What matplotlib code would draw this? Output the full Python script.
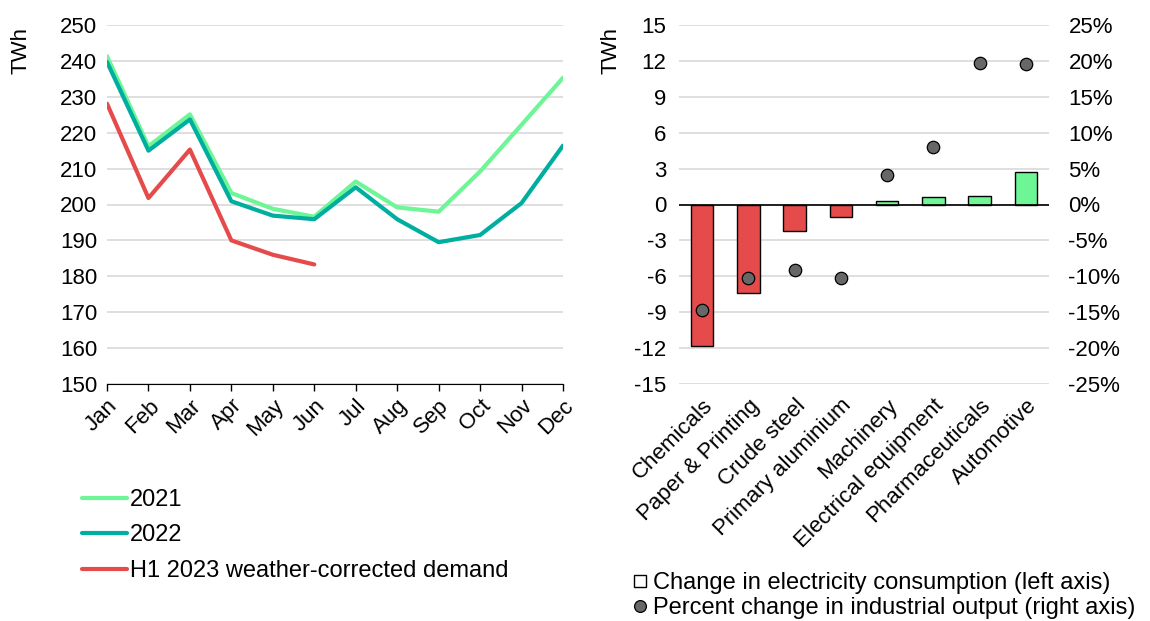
import matplotlib
matplotlib.use("Agg")
import matplotlib.pyplot as plt
from matplotlib.lines import Line2D
import numpy as np

plt.rcParams['font.family'] = ['Liberation Sans', 'DejaVu Sans']
plt.rcParams['axes.unicode_minus'] = False

months = ["Jan", "Feb", "Mar", "Apr", "May", "Jun", "Jul", "Aug", "Sep", "Oct", "Nov", "Dec"]
demand_2021 = [241.3, 216.2, 225.1, 203.2, 198.8, 196.6, 206.4, 199.2, 198.0, 209.2, 222.2, 235.3]
demand_2022 = [239.7, 215.0, 223.7, 200.9, 196.9, 195.9, 204.8, 195.9, 189.5, 191.5, 200.4, 216.4]
demand_2023 = [228.1, 201.8, 215.3, 190.0, 186.0, 183.3]

sectors = ["Chemicals", "Paper & Printing", "Crude steel", "Primary aluminium",
           "Machinery", "Electrical equipment", "Pharmaceuticals", "Automotive"]
elec_change = [-11.8, -7.4, -2.24, -1.02, 0.28, 0.66, 0.69, 2.68]
output_change = [-14.7, -10.2, -9.1, -10.2, 4.1, 8.0, 19.7, 19.5]

c2021 = "#6df596"
c2022 = "#00ae9f"
c2023 = "#e54b4b"
grid_c = "#d9d9d9"
fs = 16
lfs = 17

fig = plt.figure(figsize=(11.5, 6.21), dpi=100)

# Left chart
ax1 = fig.add_axes([107/1150, 1-384/621, (563-107)/1150, (384-25)/621])
x = np.arange(len(months))
ax1.plot(x, demand_2021, color=c2021, lw=3, label="2021", solid_capstyle="round", zorder=3)
ax1.plot(x, demand_2022, color=c2022, lw=3, label="2022", solid_capstyle="round", zorder=4)
ax1.plot(x[:len(demand_2023)], demand_2023, color=c2023, lw=3,
         label="H1 2023 weather-corrected demand", solid_capstyle="round", zorder=5)
ax1.set_xlim(0, 11)
ax1.set_ylim(150, 250)
ax1.set_yticks(np.arange(150, 251, 10))
ax1.set_xticks(x)
ax1.set_xticklabels(months, rotation=45, ha="right", rotation_mode="anchor", fontsize=fs)
ax1.tick_params(axis="y", length=0, labelsize=fs, pad=7)
ax1.tick_params(axis="x", length=5, width=1, color="black", pad=3)
for s in ["top", "right", "left"]:
    ax1.spines[s].set_visible(False)
ax1.spines["bottom"].set_color("black")
ax1.yaxis.grid(True, color=grid_c, lw=1.2)
ax1.set_axisbelow(True)
ax1.set_ylabel("TWh", fontsize=fs)
ax1.yaxis.set_label_coords(-0.165, 0.93)
ax1.legend(loc="upper left", bbox_to_anchor=(82/1150, 1-489/621), bbox_transform=fig.transFigure,
           frameon=False, fontsize=lfs, handlelength=1.9, handletextpad=0.12, labelspacing=0.57,
           borderaxespad=0, borderpad=0)

# Right chart
ax2 = fig.add_axes([679/1150, 1-384/621, (1049-679)/1150, (384-25)/621])
xs = np.arange(len(sectors))
bar_colors = [c2023 if v < 0 else c2021 for v in elec_change]
ax2.bar(xs, elec_change, width=0.49, color=bar_colors, edgecolor="black", linewidth=1, zorder=3)
ax2.axhline(0, color="black", lw=1.2, zorder=4)
ax2.set_xlim(-0.5, 7.5)
ax2.set_ylim(-15, 15)
ax2.set_yticks(np.arange(-15, 16, 3))
ax2.yaxis.grid(True, color=grid_c, lw=1.2)
ax2.set_axisbelow(True)
ax2.set_xticks(xs)
ax2.set_xticklabels(sectors, rotation=45, ha="right", rotation_mode="anchor", fontsize=fs)
ax2.tick_params(axis="x", length=0, pad=8)
ax2.tick_params(axis="y", length=0, labelsize=fs, pad=9)
for s in ["top", "right", "left", "bottom"]:
    ax2.spines[s].set_visible(False)
ax2.set_ylabel("TWh", fontsize=fs)
ax2.yaxis.set_label_coords(-0.155, 0.93)

ax3 = ax2.twinx()
ax3.scatter(xs, output_change, s=80, color="#676767", edgecolor="black", linewidth=0.9, zorder=5)
ax3.set_ylim(-25, 25)
ax3.set_yticks(np.arange(-25, 26, 5))
ax3.set_yticklabels([f"{v}%" for v in range(-25, 26, 5)])
ax3.tick_params(axis="y", length=0, labelsize=fs, pad=14)
for s in ["top", "right", "left", "bottom"]:
    ax3.spines[s].set_visible(False)

handles = [
    Line2D([0], [0], marker="s", color="none", markerfacecolor="white", markeredgecolor="black",
           markersize=9, markeredgewidth=1),
    Line2D([0], [0], marker="o", color="none", markerfacecolor="#676767", markeredgecolor="black",
           markersize=8.5, markeredgewidth=0.9),
]
fig.legend(handles, ["Change in electricity consumption (left axis)",
                     "Percent change in industrial output (right axis)"],
           loc="upper left", bbox_to_anchor=(633/1150, 1-572/621), frameon=False, fontsize=lfs,
           handlelength=0.6, handletextpad=0.25, labelspacing=0.12, borderaxespad=0, borderpad=0)

fig.savefig("out.png", dpi=100)
